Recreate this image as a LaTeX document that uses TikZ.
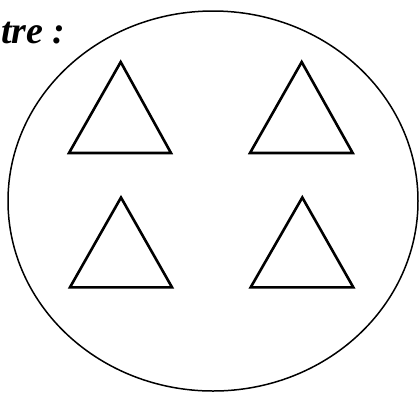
\documentclass[tikz,border=0pt]{standalone}
\usepackage{fontspec}
\setmainfont{Liberation Serif}
\begin{document}
\begin{tikzpicture}[x=1pt,y=-1pt,
  tri/.style={draw=black,line width=2.6pt,line join=miter},
  oval/.style={draw=black,line width=1.5pt}]
\useasboundingbox (0,0) rectangle (420,392);
\node[anchor=base west,inner sep=0pt,font=\fontsize{38}{40}\selectfont\bfseries\itshape] (label) at (1,43) {tre :};
\draw[oval] (213,201) ellipse [x radius=205,y radius=190];
\coordinate (e) at (213,201);
\draw[tri] (120.7,62) -- (69,153) -- (171,153) -- cycle;
\draw[tri] (301.7,62) -- (250,153) -- (352.7,153) -- cycle;
\draw[tri] (121,197.5) -- (70,287.3) -- (172,287.3) -- cycle;
\draw[tri] (302.3,197.5) -- (250.7,287.3) -- (353.3,287.3) -- cycle;
\end{tikzpicture}
\end{document}
